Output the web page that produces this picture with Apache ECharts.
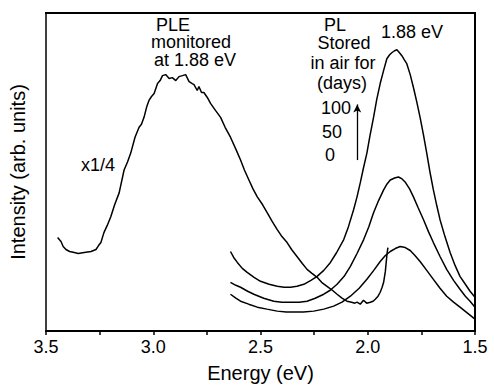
<!DOCTYPE html>
<html>
<head>
<meta charset="utf-8">
<script src="https://cdn.jsdelivr.net/npm/echarts@6/dist/echarts.min.js"></script>
<style>
  html, body { margin: 0; padding: 0; background: #fff; }
  #chart { width: 494px; height: 388px; }
</style>
</head>
<body>
<div id="chart"></div>
<script>
// energy (eV), intensity (arb. units)
const pleData = [
  [3.446, 94], [3.43, 90], [3.42, 85], [3.407, 82], [3.39, 80], [3.368, 79], [3.35, 78],
  [3.322, 79], [3.29, 80], [3.267, 82], [3.255, 86], [3.244, 89], [3.23, 99], [3.215, 106],
  [3.198, 115], [3.18, 127], [3.159, 139], [3.136, 162], [3.12, 170], [3.105, 179],
  [3.085, 195], [3.066, 205], [3.055, 208], [3.043, 215], [3.03, 226], [3.02, 232],
  [3.008, 236], [2.996, 239], [2.98, 249], [2.968, 252], [2.957, 257], [2.942, 258],
  [2.926, 254], [2.911, 255], [2.895, 252], [2.88, 256], [2.864, 257], [2.849, 258],
  [2.833, 251], [2.818, 249], [2.81, 248], [2.795, 242], [2.787, 246], [2.775, 240],
  [2.764, 240], [2.748, 235], [2.733, 229], [2.71, 222], [2.686, 215], [2.665, 205],
  [2.64, 195], [2.615, 183], [2.593, 172], [2.575, 162], [2.554, 152], [2.535, 143],
  [2.515, 135], [2.49, 127], [2.469, 119], [2.445, 110], [2.422, 102], [2.4, 95],
  [2.376, 89], [2.355, 82], [2.33, 75], [2.305, 68], [2.283, 62], [2.26, 58],
  [2.236, 54], [2.215, 49], [2.19, 45], [2.165, 41], [2.143, 37], [2.12, 33],
  [2.097, 30], [2.075, 29], [2.06, 28], [2.05, 29], [2.035, 27], [2.02, 31],
  [2.005, 28], [1.988, 29], [1.975, 30], [1.965, 32], [1.952, 35], [1.942, 39],
  [1.933, 44], [1.926, 49], [1.918, 60], [1.914, 69], [1.91, 78], [1.906, 84]
];
const pl100Data = [
  [2.64, 80], [2.625, 74], [2.608, 69], [2.585, 63], [2.562, 59], [2.53, 54],
  [2.5, 50], [2.46, 47], [2.422, 45], [2.39, 44], [2.36, 44], [2.33, 45],
  [2.298, 47], [2.265, 51], [2.236, 55], [2.205, 61], [2.174, 69], [2.145, 79],
  [2.112, 92], [2.09, 105], [2.066, 122], [2.05, 135], [2.035, 149], [2.02, 164],
  [2.004, 179], [1.99, 196], [1.973, 215], [1.958, 233], [1.942, 249], [1.925, 263],
  [1.911, 274], [1.898, 278], [1.888, 280], [1.875, 282], [1.864, 283], [1.852, 280],
  [1.841, 277], [1.83, 273], [1.818, 269], [1.802, 258], [1.787, 245], [1.772, 231],
  [1.756, 215], [1.74, 197], [1.725, 179], [1.71, 160], [1.694, 142], [1.678, 126],
  [1.663, 112], [1.64, 95], [1.616, 79], [1.593, 66], [1.57, 55], [1.545, 47],
  [1.523, 40], [1.5, 34]
];
const pl50Data = [
  [2.64, 49], [2.615, 46], [2.593, 44], [2.56, 40], [2.531, 37], [2.485, 33],
  [2.438, 30], [2.4, 29], [2.36, 29], [2.32, 29], [2.283, 30], [2.245, 33],
  [2.205, 37], [2.175, 41], [2.143, 47], [2.11, 55], [2.081, 65], [2.05, 78],
  [2.019, 92], [1.995, 105], [1.973, 119], [1.95, 131], [1.926, 142], [1.91, 148],
  [1.895, 152], [1.875, 154], [1.857, 155], [1.84, 153], [1.826, 150], [1.805, 143],
  [1.787, 135], [1.765, 124], [1.74, 112], [1.717, 100], [1.694, 89], [1.663, 75],
  [1.632, 62], [1.6, 51], [1.57, 42], [1.545, 35], [1.523, 30], [1.5, 24]
];
const pl0Data = [
  [2.64, 37], [2.615, 33], [2.593, 30], [2.555, 27], [2.515, 24], [2.47, 22],
  [2.422, 20], [2.38, 19], [2.345, 19], [2.3, 19], [2.252, 20], [2.205, 22],
  [2.159, 25], [2.12, 29], [2.081, 35], [2.04, 43], [2.004, 52], [1.972, 61],
  [1.942, 70], [1.918, 76], [1.895, 80], [1.872, 83], [1.849, 85], [1.825, 84],
  [1.802, 81], [1.78, 76], [1.756, 70], [1.725, 61], [1.694, 52], [1.663, 43],
  [1.632, 35], [1.6, 29], [1.57, 24], [1.535, 18], [1.5, 12]
];
const tickLabels = ['1.5', '2.0', '2.5', '3.0', '3.5'];
const storedDays = ['100', '50', '0'];

const xMin = 1.5, xMax = 3.5, yMin = 0, yMax = 320;
const W = 494, H = 388;
const gridBox = { left: 45, right: 19, top: 13, bottom: 56 };

const chart = echarts.init(document.getElementById('chart'), null, { renderer: 'svg' });
const font = 'Liberation Sans, Arial, Helvetica, sans-serif';

function curve(data) {
  return {
    type: 'line',
    data: data,
    showSymbol: false,
    symbol: 'none',
    silent: true,
    lineStyle: { color: '#000', width: 1.5 },
    z: 3
  };
}

const txt = (text, x, y) => ({
  type: 'text',
  x: x, y: y,
  style: {
    text: text, fill: '#000', font: '18px ' + font,
    align: 'center', verticalAlign: 'middle'
  }
});

const gl = gridBox.left, gt = gridBox.top;
const gr = W - gridBox.right, gb = H - gridBox.bottom;

const option = {
  backgroundColor: '#fff',
  animation: false,
  grid: gridBox,
  xAxis: {
    type: 'value',
    inverse: true,
    min: xMin, max: xMax, interval: 0.25,
    name: 'Energy (eV)',
    nameLocation: 'middle',
    nameGap: 32,
    nameTextStyle: { color: '#000', fontSize: 20, fontFamily: font },
    axisLine: { show: true, onZero: false, lineStyle: { color: '#000', width: 2 } },
    axisTick: { show: true, inside: false, length: 4, lineStyle: { color: '#000', width: 1.5 } },
    axisLabel: {
      color: '#000', fontSize: 18, fontFamily: font, margin: 7,
      formatter: v => {
        const s = v.toFixed(1);
        return tickLabels.indexOf(s) >= 0 && Math.abs(v * 2 - Math.round(v * 2)) < 1e-6 ? s : '';
      }
    },
    splitLine: { show: false }
  },
  yAxis: {
    type: 'value',
    min: yMin, max: yMax,
    name: 'Intensity (arb. units)',
    nameLocation: 'middle',
    nameGap: 18,
    nameRotate: 90,
    nameTextStyle: { color: '#000', fontSize: 20, fontFamily: font },
    axisLine: { show: true, onZero: false, lineStyle: { color: '#000', width: 1.5 } },
    axisTick: { show: false },
    axisLabel: { show: false },
    splitLine: { show: false }
  },
  series: [
    curve(pleData),
    curve(pl100Data),
    curve(pl50Data),
    Object.assign(curve(pl0Data), {
      markLine: {
        silent: true,
        symbol: ['none', 'arrow'],
        symbolSize: [6, 8],
        label: { show: false },
        lineStyle: { color: '#000', width: 1.3, type: 'solid' },
        data: [[{ coord: [2.049, 172] }, { coord: [2.049, 228] }]]
      }
    })
  ],
  graphic: [
    {
      // top and right sides of the plot frame
      type: 'polyline',
      z: 50,
      shape: { points: [[gl, gt], [gr, gt], [gr, gb]] },
      style: { stroke: '#000', lineWidth: 2, fill: null }
    },
    txt('PLE', 173, 25),
    txt('monitored', 191, 42),
    txt('at 1.88 eV', 195, 60),
    txt('PL', 335, 25),
    txt('Stored', 344, 43),
    txt('in air for', 343, 63),
    txt('(days)', 342, 83),
    txt('1.88 eV', 412, 32),
    txt(storedDays[0], 336, 108),
    txt(storedDays[1], 332, 132),
    txt(storedDays[2], 330, 155),
    txt('x1/4', 98, 165)
  ]
};

chart.setOption(option);
</script>
</body>
</html>
